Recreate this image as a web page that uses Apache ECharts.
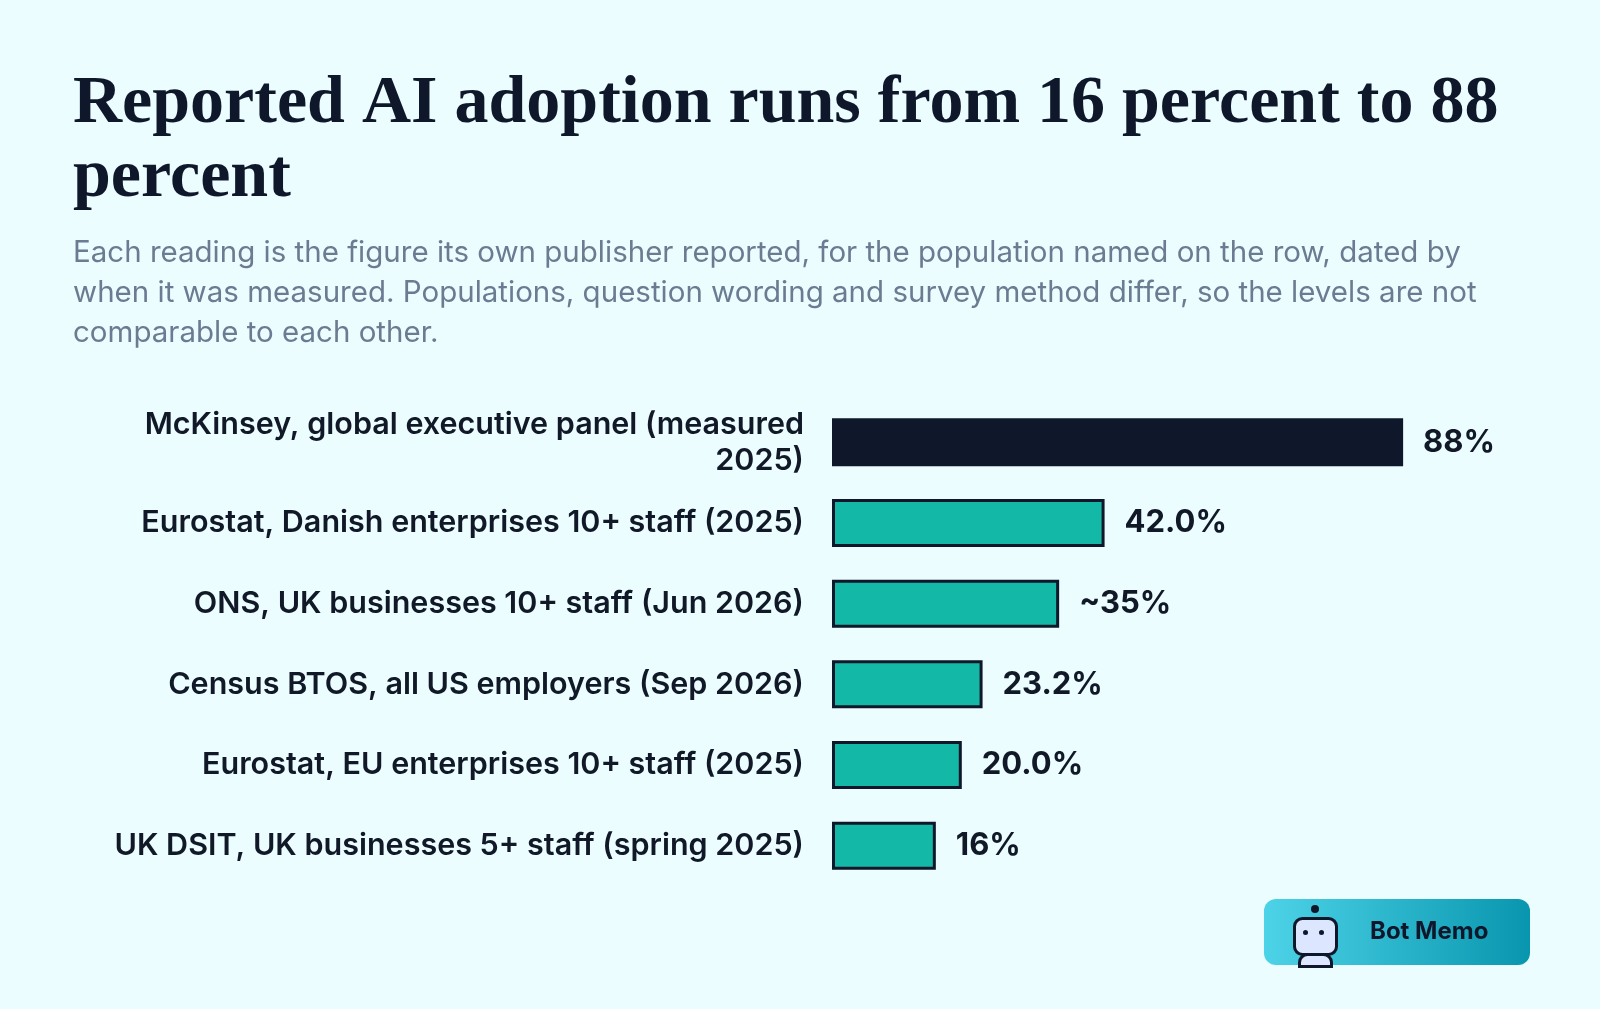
<!DOCTYPE html>
<html><head><meta charset="utf-8">
<script src="https://cdn.jsdelivr.net/npm/echarts@6/dist/echarts.min.js"></script>
<style>html,body{margin:0;background:#ebfdff}#c{width:1600px;height:1009px}</style>
</head><body><div id="c"></div>
<script>
var categories = [
  'McKinsey, global executive panel (measured\n2025)',
  'Eurostat, Danish enterprises 10+ staff (2025)',
  'ONS, UK businesses 10+ staff (Jun 2026)',
  'Census BTOS, all US employers (Sep 2026)',
  'Eurostat, EU enterprises 10+ staff (2025)',
  'UK DSIT, UK businesses 5+ staff (spring 2025)'
];
var values = [88, 42.0, 35, 23.2, 20.0, 16];
var valueLabels = ['88%', '42.0%', '~35%', '23.2%', '20.0%', '16%'];

var chart = echarts.init(document.getElementById('c'));
var font = 'Inter, "Noto Sans", sans-serif';

chart.setOption({
  backgroundColor: '#ebfdff',
  title: {
    text: 'Reported AI adoption runs from 16 percent to 88\npercent',
    subtext: 'Each reading is the figure its own publisher reported, for the population named on the row, dated by\nwhen it was measured. Populations, question wording and survey method differ, so the levels are not\ncomparable to each other.',
    left: 68, top: 62,
    itemGap: 18,
    textStyle: {fontFamily: '"Liberation Serif", serif', fontWeight: 'bold', fontSize: 68, lineHeight: 74, color: '#0f172a'},
    subtextStyle: {fontFamily: font, fontSize: 29.5, lineHeight: 40, color: '#6b7b91'}
  },
  grid: {left: 832, right: 119, top: 402, bottom: 123},
  xAxis: {type: 'value', min: 0, max: 100, show: false},
  yAxis: {
    type: 'category', inverse: true, data: categories,
    axisLine: {show: false}, axisTick: {show: false},
    axisLabel: {margin: 28, fontFamily: font, fontSize: 30.5, fontWeight: 600, color: '#111827', lineHeight: 36, align: 'right'}
  },
  series: [{
    type: 'bar', barWidth: 48,
    data: values.map(function (v, i) {
      return i === 0
        ? {value: v, itemStyle: {color: '#0f172a', borderWidth: 0}}
        : {value: v, itemStyle: {color: '#14b8a6', borderColor: '#0f172a', borderWidth: 3}};
    }),
    label: {
      show: true, position: 'right', distance: 20,
      fontFamily: font, fontSize: 31, fontWeight: 'bold', color: '#111827',
      formatter: function (p) { return valueLabels[p.dataIndex]; }
    }
  }],
  graphic: [
    {type: 'rect', left: 1264, top: 899, shape: {width: 266, height: 66, r: 12},
     style: {fill: new echarts.graphic.LinearGradient(0, 0, 1, 0, [{offset: 0, color: '#4dd3e8'}, {offset: 1, color: '#0896ae'}])}},
    {type: 'circle', left: 1311, top: 905, shape: {r: 4}, style: {fill: '#0f172a'}},
    {type: 'rect', left: 1293, top: 917, shape: {width: 42, height: 36, r: 8}, style: {fill: '#dce6ff', stroke: '#0f172a', lineWidth: 3}},
    {type: 'circle', left: 1303, top: 930, shape: {r: 2.5}, style: {fill: '#0f172a'}},
    {type: 'circle', left: 1319, top: 930, shape: {r: 2.5}, style: {fill: '#0f172a'}},
    {type: 'rect', left: 1298, top: 953, shape: {width: 32, height: 12, r: [8, 8, 0, 0]}, style: {fill: '#dce6ff', stroke: '#0f172a', lineWidth: 3}},
    {type: 'text', left: 1370, top: 920, style: {text: 'Bot Memo', fontFamily: font, fontSize: 24, fontWeight: 'bold', fill: '#0f172a'}}
  ]
});
</script></body></html>
